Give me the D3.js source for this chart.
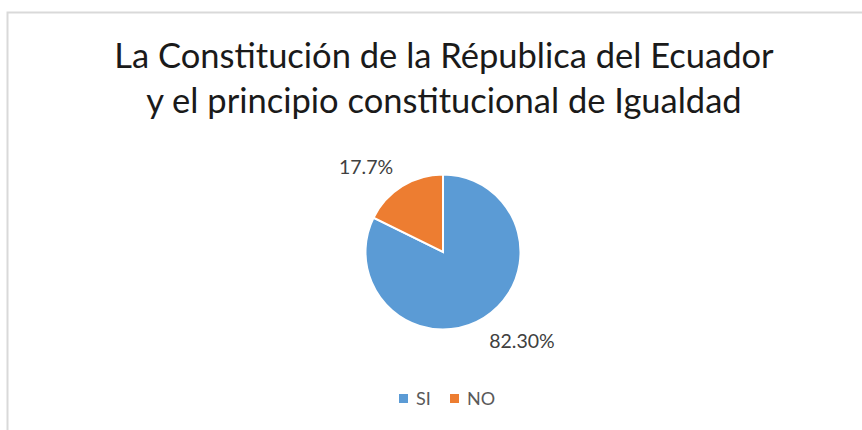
<!DOCTYPE html>
<html><head><meta charset="utf-8">
<script src="https://cdn.jsdelivr.net/npm/d3@7"></script>
<style>body{margin:0;background:#fff}svg{display:block}</style>
</head><body>
<svg id="c" width="862" height="430"></svg>
<script>
const titleLines = ["La Constitución de la Républica del Ecuador", "y el principio constitucional de Igualdad"];
const categories = ["SI", "NO"];
const values = [82.3, 17.7];
const valueLabels = ["82.30%", "17.7%"];
const colors = ["#5B9BD5", "#ED7D31"];

const svg = d3.select("#c");
const font = "Lato, 'Open Sans', sans-serif";

// chart frame (left + top edges visible)
svg.append("path").attr("d", "M7.5,430 V12.5 H862").attr("fill", "none").attr("stroke", "#D9D9D9").attr("stroke-width", 2);

// title
const title = svg.append("text").attr("text-anchor", "middle").attr("font-family", font)
  .attr("font-size", 34.5).attr("fill", "#1a1a1a");
const titleY = [68, 113];
titleLines.forEach((t, i) => title.append("tspan").attr("x", 444).attr("y", titleY[i]).text(t));

// pie
const cx = 443, cy = 252, r = 77.5;
const pie = d3.pie().sort(null).value(d => d)
  .startAngle(0).endAngle(2 * Math.PI);
const arcs = pie(values);
const arc = d3.arc().innerRadius(0).outerRadius(r);
const g = svg.append("g").attr("transform", `translate(${cx},${cy})`);
g.selectAll("path").data(arcs).join("path")
  .attr("d", arc).attr("fill", (d, i) => colors[i])
  .attr("stroke", "#fff").attr("stroke-width", 2).attr("stroke-linejoin", "miter");

// data labels
const labelPos = [[522, 348], [366, 174]];
svg.selectAll("text.lbl").data(valueLabels).join("text").attr("class", "lbl")
  .attr("x", (d, i) => labelPos[i][0]).attr("y", (d, i) => labelPos[i][1])
  .attr("text-anchor", "middle").attr("font-family", font).attr("font-size", 19.5)
  .attr("fill", "#404040").text(d => d);

// legend
const legX = [399, 450];
const leg = svg.selectAll("g.leg").data(categories).join("g").attr("class", "leg")
  .attr("transform", (d, i) => `translate(${legX[i]},394)`);
leg.append("rect").attr("width", 9).attr("height", 9).attr("fill", (d, i) => colors[i]);
leg.append("text").attr("x", 17).attr("y", 11).attr("font-family", font).attr("font-size", 18)
  .attr("fill", "#595959").text(d => d);
</script>
</body></html>
